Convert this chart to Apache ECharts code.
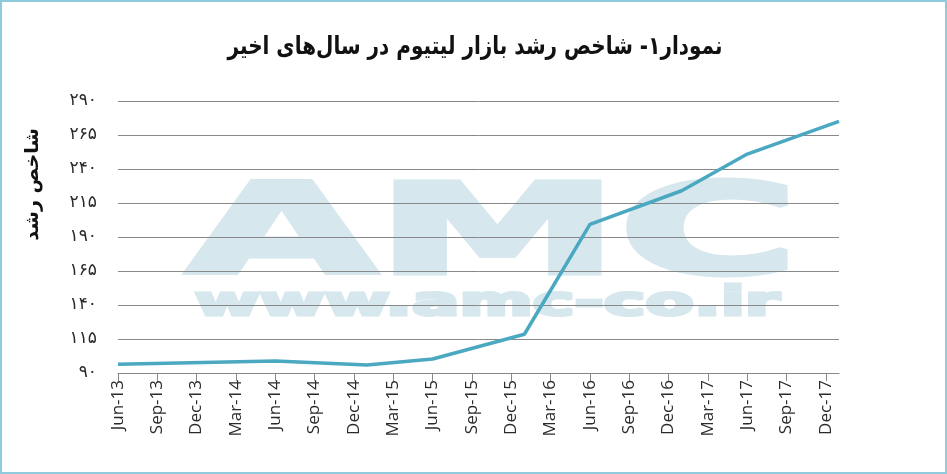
<!DOCTYPE html>
<html>
<head>
<meta charset="utf-8">
<script src="https://cdn.jsdelivr.net/npm/echarts@6/dist/echarts.min.js"></script>
<style>
html,body{margin:0;padding:0;background:#fff;}
#wrap{position:absolute;left:0;top:0;width:943px;height:470px;border:2px solid #8ecbdc;}
#chart{width:943px;height:470px;}
</style>
</head>
<body>
<div id="wrap"><div id="chart"></div></div>
<script>
// Monthly categories Jun-13 .. Jan-18
const months = ['Jun-13','Jul-13','Aug-13','Sep-13','Oct-13','Nov-13','Dec-13','Jan-14','Feb-14','Mar-14','Apr-14','May-14',
'Jun-14','Jul-14','Aug-14','Sep-14','Oct-14','Nov-14','Dec-14','Jan-15','Feb-15','Mar-15','Apr-15','May-15',
'Jun-15','Jul-15','Aug-15','Sep-15','Oct-15','Nov-15','Dec-15','Jan-16','Feb-16','Mar-16','Apr-16','May-16',
'Jun-16','Jul-16','Aug-16','Sep-16','Oct-16','Nov-16','Dec-16','Jan-17','Feb-17','Mar-17','Apr-17','May-17',
'Jun-17','Jul-17','Aug-17','Sep-17','Oct-17','Nov-17','Dec-17','Jan-18'];
// Observed points (month label -> index value)
const pointMonths = ['Jun-13','Jun-14','Jan-15','Jun-15','Jan-16','Jun-16','Jan-17','Jun-17','Jan-18'];
const pointValues = [96.5, 98.8, 95.9, 100.3, 118.5, 199.3, 224, 251, 275];
const yTicks = [90,115,140,165,190,215,240,265,290];

const titleText = 'نمودار۱- شاخص رشد بازار لیتیوم در سال‌های اخیر';
const yName = 'شاخص رشد';

const seriesData = months.map(m => {
  const i = pointMonths.indexOf(m);
  return i >= 0 ? pointValues[i] : null;
});
const fa = '۰۱۲۳۴۵۶۷۸۹';
const toFa = n => String(n).replace(/[0-9]/g, d => fa[+d]);

const chart = echarts.init(document.getElementById('chart'));
chart.setOption({
  animation: false,
  graphic: [
    {type: 'text', z: -10, left: 180, top: 174, scaleX: 1.97, scaleY: 1,
     style: {text: 'AMC', font: 'bold 124px "DejaVu Sans"', fill: '#d6e7ed', stroke: '#d6e7ed', lineWidth: 5}},
    {type: 'text', z: -10, left: 190, top: 281, scaleX: 1.76, scaleY: 1,
     style: {text: 'www.amc-co.ir', font: 'bold 40px "DejaVu Sans"', fill: '#d6e7ed', stroke: '#d6e7ed', lineWidth: 3}},
    {type: 'text', x: 473, y: 45, scaleX: 0.8, scaleY: 1,
     style: {text: titleText, font: 'bold 25px "DejaVu Sans"', fill: '#111', align: 'center', verticalAlign: 'middle'}},
    {type: 'text', left: 22, top: 126, rotation: Math.PI/2,
     style: {text: yName, font: 'bold 19px "DejaVu Sans"', fill: '#111'}}
  ],
  grid: {left: 116, right: 106, top: 99, bottom: 99},
  xAxis: {
    type: 'category', data: months, boundaryGap: false,
    axisLine: {lineStyle: {color: '#888', width: 1}},
    axisTick: {show: true, interval: 2, length: 8, lineStyle: {color: '#888'}},
    axisLabel: {interval: 2, rotate: 90, fontSize: 17, color: '#2a2a2a', fontFamily: 'Open Sans', margin: 7},
    splitLine: {show: false}
  },
  yAxis: {
    type: 'value', min: 90, max: 290, interval: 25,
    axisLine: {show: false}, axisTick: {show: false},
    axisLabel: {fontSize: 17, color: '#2a2a2a', fontFamily: 'DejaVu Sans', margin: 21,
      formatter: v => toFa(v)},
    splitLine: {lineStyle: {color: '#888', width: 1}}
  },
  series: [{
    type: 'line', data: seriesData, connectNulls: true, showSymbol: false, symbol: 'none',
    lineStyle: {color: '#4aa8c1', width: 3.5}, z: 5
  }]
});
</script>
</body>
</html>
